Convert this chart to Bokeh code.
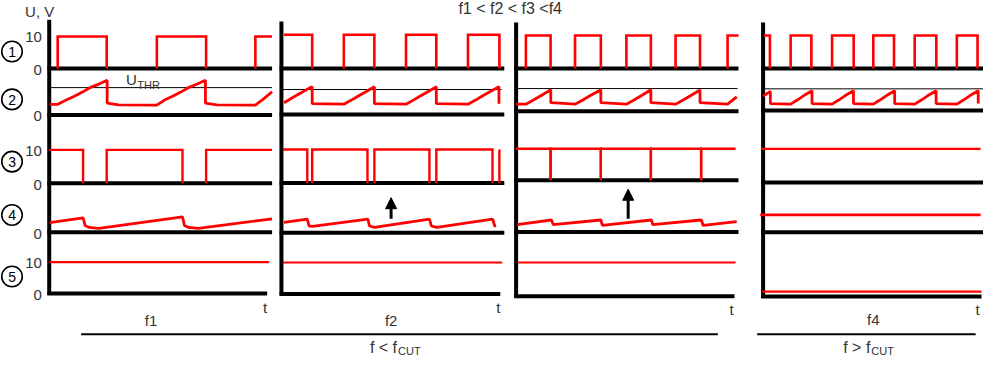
from bokeh.plotting import figure
from bokeh.models import Range1d, Arrow, NormalHead
from bokeh.core.properties import value
from bokeh.embed import file_html
from bokeh.resources import INLINE

# ======================= DATA (time: 0..10 per column, voltage: V) =======================
TITLE = "f1 < f2 < f3 <f4"
Y_UNIT = "U, V"
ROW_NAMES = ["1", "2", "3", "4", "5"]
COL_NAMES = ["f1", "f2", "", "f4"]
TIME_LABEL = "t"
GROUP_MAIN = ["f < f", "f > f"]
GROUP_SUB = ["CUT", "CUT"]
THR_MAIN, THR_SUB = "U", "THR"
TICK_ROWS = [0, 0, 1, 2, 2, 3, 4, 4]
TICK_VALUES = [0, 10, 0, 0, 10, 0, 0, 10]

# Row 1: input square wave, high intervals
R1_HIGH_START = [[0.38, 4.83, 9.25], [0.11, 2.80, 5.59, 8.37],
                 [0.44, 2.65, 4.96, 7.17, 9.51], [0.04, 1.25, 3.13, 5.00, 6.88, 8.79]]
R1_HIGH_END = [[2.58, 7.04, 10.0], [1.38, 4.17, 6.95, 9.78],
               [1.55, 3.81, 6.06, 8.27, 10.0], [0.31, 2.19, 4.11, 5.94, 7.86, 9.73]]
R1_LEVEL = [9.7, 10.2, 10.0, 10.0]

# Row 2: capacitor voltage
R2_T = [
    [0.02, 0.38, 0.39, 0.76, 1.13, 1.49, 1.86, 2.23, 2.60, 2.60, 3.11, 4.73, 4.83, 5.17, 5.54,
     5.90, 6.28, 6.64, 7.01, 7.01, 7.52, 9.15, 9.25, 9.59, 10.0],
    [0.12, 0.49, 0.86, 1.23, 1.38, 1.38, 2.80, 3.14, 3.51, 3.81, 4.17, 4.17, 5.59, 5.92, 6.29,
     6.59, 6.95, 6.95, 8.37, 8.71, 9.07, 9.37, 9.76, 9.76],
    [0.0, 0.44, 0.78, 1.15, 1.56, 1.56, 2.65, 3.00, 3.36, 3.81, 3.81, 4.96, 5.30, 5.66, 6.06,
     6.06, 7.17, 7.51, 7.88, 8.27, 8.27, 9.51, 9.92],
    [0.0, 0.33, 0.33, 1.25, 1.55, 1.85, 2.22, 2.22, 3.13, 3.43, 3.73, 4.10, 4.10, 5.00, 5.30,
     5.60, 5.97, 5.97, 6.88, 7.18, 7.48, 7.85, 7.85, 8.79, 9.09, 9.39, 9.76, 9.76],
]
R2_V = [
    [3.24, 3.24, 3.29, 4.56, 5.74, 7.00, 8.47, 9.47, 10.65, 3.59, 3.10, 3.00, 3.00, 4.56, 5.74,
     7.00, 8.47, 9.47, 10.65, 3.59, 3.10, 3.00, 3.00, 4.76, 7.10],
    [3.60, 5.10, 6.60, 8.00, 8.50, 3.30, 3.15, 4.40, 5.90, 7.06, 8.50, 3.30, 3.15, 4.40, 5.90,
     7.06, 8.50, 3.30, 3.15, 4.40, 5.90, 7.06, 8.50, 3.30],
    [2.18, 2.18, 3.44, 4.91, 6.59, 2.65, 2.18, 3.44, 4.91, 6.59, 2.65, 2.18, 3.44, 4.91, 6.59,
     2.65, 2.18, 3.44, 4.91, 6.59, 2.65, 2.18, 4.40],
    [4.50, 5.90, 2.15, 1.97, 3.24, 4.62, 6.09, 2.15, 1.97, 3.24, 4.62, 6.09, 2.15, 1.97, 3.24,
     4.62, 6.09, 2.15, 1.97, 3.24, 4.62, 6.09, 2.15, 1.97, 3.24, 4.62, 6.09, 2.15],
]
R2_THRESHOLD = [8.38, 7.65, 6.97, 6.68]
R2_THR_T0 = [0.0, 0.07, 0.04, 0.04]
R2_THR_T1 = [10.0, 9.87, 9.96, 10.0]

# Row 3: comparator output, high intervals
R3_HIGH_START = [[0.0, 2.58, 7.04], [0.07, 1.38, 4.17, 6.95, 9.78],
                 [0.0, 1.55, 3.81, 6.06, 8.32], [-0.10]]
R3_HIGH_END = [[1.52, 5.98, 10.0], [1.16, 3.86, 6.64, 9.47, 9.78],
               [1.55, 3.81, 6.06, 8.32, 9.87], [9.87]]
R3_LEVEL = [10.0, 10.0, 9.4, 10.0]

# Row 4: filtered voltage
R4_T = [
    [0.02, 1.52, 1.61, 1.79, 2.23, 5.98, 6.07, 6.25, 6.69, 10.0],
    [0.11, 1.16, 1.24, 1.39, 3.88, 3.95, 4.17, 6.64, 6.73, 6.97, 9.47, 9.59],
    [0.04, 1.59, 1.67, 3.81, 3.88, 6.09, 6.14, 8.33, 8.41, 9.92],
    [-0.13, 9.87],
]
R4_V = [
    [2.94, 4.41, 2.06, 1.47, 1.18, 4.71, 2.06, 1.47, 1.18, 4.12],
    [3.24, 4.24, 2.10, 1.97, 4.24, 2.10, 1.68, 4.24, 2.10, 1.68, 4.24, 1.76],
    [2.26, 3.65, 2.26, 3.65, 1.97, 3.65, 2.26, 3.65, 1.97, 3.15],
    [5.30, 5.30],
]

# Row 5: output
R5_T = [[0.02, 9.87], [0.07, 9.91], [0.09, 9.87], [-0.04, 9.91]]
R5_V = [[9.9, 9.9], [10.0, 10.0], [10.7, 10.7], [1.6, 1.6]]

# Arrows (row 4, columns 2 and 3)
ARROW_COL = [1, 2]
ARROW_T = [4.92, 5.04]
ARROW_V_FROM = [4.3, 4.0]
ARROW_V_TO = [10.8, 13.1]

# ======================= LAYOUT (reference pixel space 999 x 375) =======================
W_REF, H_REF = 999, 375
COL_X0 = [49.5, 285.5, 524.0, 775.0]
COL_TS = [22.65, 22.65, 22.6, 22.4]
BASE_Y = [[71, 119.5, 191, 242, 306],
          [71, 119, 190.7, 242.7, 306.7],
          [71, 115.7, 187.7, 241.7, 309],
          [71, 115, 190, 242, 309.3]]
ROW_K = [3.45, 3.4, 3.5, 3.4, 3.3]
AXIS_TOP = [20, 22, 23, 23]
BASE_T0 = -0.08
BASE_T1 = [[10.0] * 4 + [9.78], [10.0] * 4 + [9.82], [10.0] * 4 + [9.82], [10.0] * 4 + [9.91]]
EDGE_LO, EDGE_HI = 0.15, 9.8
RED = "#ff0000"
TXT = "#333333"
FONT = value("Liberation Sans")

p = figure(width=983, height=359, x_range=Range1d(0, W_REF), y_range=Range1d(H_REF, 0),
           output_backend="svg", toolbar_location=None, min_border=0,
           x_axis_location=None, y_axis_location=None)
p.grid.visible = False
p.outline_line_color = None
p.background_fill_color = "white"
p.border_fill_color = "white"

p.extra_x_ranges = {f"t{c}": Range1d(-COL_X0[c] / COL_TS[c], (W_REF - COL_X0[c]) / COL_TS[c])
                    for c in range(4)}
p.extra_y_ranges = {f"v{c}{r}": Range1d((BASE_Y[c][r] - H_REF) / ROW_K[r], BASE_Y[c][r] / ROW_K[r])
                    for c in range(4) for r in range(5)}


def py(c, r, v):
    return BASE_Y[c][r] - ROW_K[r] * v


def pulses(starts, ends, level):
    xs, ys = [], []
    for s, e in zip(starts, ends):
        px, pv = [], []
        if s > EDGE_LO:
            px.append(s); pv.append(0)
        px += [s, e]; pv += [level, level]
        if e < EDGE_HI:
            px.append(e); pv.append(0)
        xs.append(px); ys.append(pv)
    return xs, ys


for c in range(4):
    xr = f"t{c}"
    # vertical axis of the column
    p.line([0, 0], [AXIS_TOP[c], BASE_Y[c][4] + 1.5], x_range_name=xr,
           line_color="black", line_width=4)
    for r in range(5):
        yr = f"v{c}{r}"
        p.line([BASE_T0, BASE_T1[c][r]], [0, 0], x_range_name=xr, y_range_name=yr,
               line_color="black", line_width=4)
    # threshold
    p.line([R2_THR_T0[c], R2_THR_T1[c]], [R2_THRESHOLD[c]] * 2, x_range_name=xr,
           y_range_name=f"v{c}1", line_color="black", line_width=1)

    xs, ys = pulses(R1_HIGH_START[c], R1_HIGH_END[c], R1_LEVEL[c])
    p.multi_line(xs, ys, x_range_name=xr, y_range_name=f"v{c}0", line_color=RED,
                 line_width=2.6, line_join="miter")
    p.line(R2_T[c], R2_V[c], x_range_name=xr, y_range_name=f"v{c}1", line_color=RED,
           line_width=2.8, line_join="bevel")
    xs, ys = pulses(R3_HIGH_START[c], R3_HIGH_END[c], R3_LEVEL[c])
    p.multi_line(xs, ys, x_range_name=xr, y_range_name=f"v{c}2", line_color=RED,
                 line_width=2.4, line_join="miter")
    p.line(R4_T[c], R4_V[c], x_range_name=xr, y_range_name=f"v{c}3", line_color=RED,
           line_width=2.8, line_join="bevel")
    p.line(R5_T[c], R5_V[c], x_range_name=xr, y_range_name=f"v{c}4", line_color=RED,
           line_width=2.2)

for i, c in enumerate(ARROW_COL):
    p.add_layout(Arrow(end=NormalHead(size=11, fill_color="black", line_color="black", line_width=1),
                       x_start=ARROW_T[i], y_start=ARROW_V_FROM[i],
                       x_end=ARROW_T[i], y_end=ARROW_V_TO[i],
                       x_range_name=f"t{c}", y_range_name=f"v{c}3",
                       line_color="black", line_width=3))

# ---- texts ----
def txt(x, y, s, size="15px", align="center", color=TXT):
    p.text(x=[x], y=[y], text=[s], text_align=align, text_baseline="middle",
           text_font=FONT, text_font_size=size, text_color=color)

txt(518, 8, TITLE, "16px")
txt(25, 11, Y_UNIT, "15px", "left")
for r, v in zip(TICK_ROWS, TICK_VALUES):
    txt(42, py(0, r, v) + 1.5, str(v), "15px", "right")

CIRCLE_Y = [53.3, 103.3, 168.3, 224, 288.3]
p.scatter([11.7] * 5, CIRCLE_Y, marker="circle", size=20.5, fill_color="white",
          line_color="black", line_width=1.6)
for r in range(5):
    txt(11.9, CIRCLE_Y[r] + 0.5, ROW_NAMES[r], "14px", "center", "black")

txt(127.5, 83, THR_MAIN, "15px", "left")
txt(139, 88.5, THR_SUB, "11px", "left")

T_POS = [(269, 321), (506, 321), (743, 323), (993, 323)]
for (x, y) in T_POS:
    txt(x, y, TIME_LABEL, "15px")
F_POS = [(153, 334), (397, 334), (0, 0), (887, 333)]
for c in range(4):
    if COL_NAMES[c]:
        txt(F_POS[c][0], F_POS[c][1], COL_NAMES[c], "15px")

p.line([82, 729], [348.5, 348.5], line_color="black", line_width=2)
p.line([769, 991], [348.5, 348.5], line_color="black", line_width=2)
txt(403, 362, GROUP_MAIN[0], "16px", "right")
txt(404, 366.5, GROUP_SUB[0], "11px", "left")
txt(884, 362, GROUP_MAIN[1], "16px", "right")
txt(885, 366.5, GROUP_SUB[1], "11px", "left")

open("out.html", "w").write(file_html(p, INLINE))
